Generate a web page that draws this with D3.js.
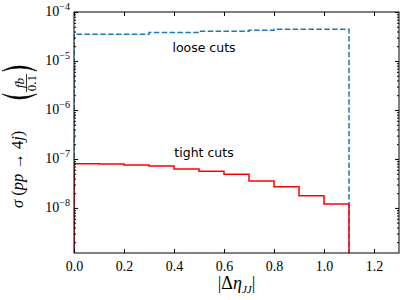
<!DOCTYPE html>
<html>
<head>
<meta charset="utf-8">
<script src="https://cdn.jsdelivr.net/npm/d3@7"></script>
<style>
  body { margin: 0; background: #fff; }
  svg { display: block; }
</style>
</head>
<body>
<svg width="406" height="300"></svg>
<script>
// bin edges of |Δη_JJ| (width 0.1)
const binEdges = [0.0, 0.1, 0.2, 0.3, 0.4, 0.5, 0.6, 0.7, 0.8, 0.9, 1.0, 1.1];
// cross sections per bin
const looseCuts = [3.5e-5, 3.5e-5, 3.5e-5, 3.8e-5, 3.8e-5, 4.05e-5, 4.05e-5, 4.25e-5, 4.45e-5, 4.45e-5, 4.45e-5];
const tightCuts = [8.0e-8, 7.9e-8, 7.55e-8, 7.2e-8, 6.25e-8, 5.6e-8, 4.9e-8, 3.56e-8, 2.72e-8, 1.78e-8, 1.21e-8];
const xTicks = [0.0, 0.2, 0.4, 0.6, 0.8, 1.0, 1.2];
const yExponents = [-4, -5, -6, -7, -8];
const yMin = Math.pow(10, -8.92), yMax = 1e-4;

const svg = d3.select("svg");
const margin = { top: 12, right: 7, bottom: 47, left: 74 };
const width = 406, height = 300;
const serif = "'Liberation Serif', 'DejaVu Serif', serif";

const x = d3.scaleLinear().domain([0, 1.3]).range([margin.left, width - margin.right]);
const y = d3.scaleLog().domain([yMin, yMax]).range([height - margin.bottom, margin.top]);

svg.append("defs").append("clipPath").attr("id", "clip")
  .append("rect")
  .attr("x", margin.left).attr("y", margin.top)
  .attr("width", x.range()[1] - margin.left)
  .attr("height", y.range()[0] - margin.top);

// histogram outline (step) from bin values
function stepPoints(vals) {
  const pts = [[binEdges[0], yMin]];
  vals.forEach((v, i) => {
    pts.push([binEdges[i], v]);
    pts.push([binEdges[i + 1], v]);
  });
  pts.push([binEdges[binEdges.length - 1], yMin]);
  return pts;
}
const line = d3.line().x(d => x(d[0])).y(d => y(d[1]));

const plot = svg.append("g").attr("clip-path", "url(#clip)");
plot.append("path")
  .attr("d", line(stepPoints(looseCuts)))
  .attr("fill", "none")
  .attr("stroke", "#1f77b4")
  .attr("stroke-width", 1.5)
  .attr("stroke-dasharray", "5.5,2.4");
plot.append("path")
  .attr("d", line(stepPoints(tightCuts)))
  .attr("fill", "none")
  .attr("stroke", "#ff0000")
  .attr("stroke-width", 1.5);

// annotations
svg.append("text")
  .attr("x", x(0.52)).attr("y", y(1.5e-5))
  .attr("text-anchor", "middle")
  .style("font-family", "'DejaVu Sans', sans-serif")
  .style("font-size", "12.5px")
  .text("loose cuts");
svg.append("text")
  .attr("x", x(0.52)).attr("y", y(1.12e-7))
  .attr("text-anchor", "middle")
  .style("font-family", "'DejaVu Sans', sans-serif")
  .style("font-size", "12.5px")
  .text("tight cuts");

// axes (ticks inside, on all sides)
const xMajor = d3.axisBottom(x).tickValues(xTicks).tickSize(-4).tickPadding(8)
  .tickFormat(d3.format(".1f"));
const gx = svg.append("g")
  .attr("transform", `translate(0,${height - margin.bottom})`)
  .call(xMajor);
gx.selectAll("text").style("font-family", serif).style("font-size", "14px");

svg.append("g")
  .attr("transform", `translate(0,${margin.top})`)
  .call(d3.axisTop(x).tickValues(xTicks).tickSize(-4).tickFormat(""));

const minorVals = [];
for (let e = -9; e < -4; e++) {
  for (let m = 2; m <= 9; m++) {
    const v = m * Math.pow(10, e);
    if (v > yMin && v < yMax) minorVals.push(v);
  }
}
const majorVals = yExponents.map(e => Math.pow(10, e));

const gy = svg.append("g").attr("transform", `translate(${margin.left},0)`);
gy.call(d3.axisLeft(y).tickValues(majorVals).tickSize(-4).tickPadding(4).tickFormat(""));
gy.append("g").call(d3.axisLeft(y).tickValues(minorVals).tickSize(-2).tickFormat(""));
const gyr = svg.append("g").attr("transform", `translate(${width - margin.right},0)`);
gyr.call(d3.axisRight(y).tickValues(majorVals).tickSize(-4).tickFormat(""));
gyr.append("g").call(d3.axisRight(y).tickValues(minorVals).tickSize(-2).tickFormat(""));
svg.selectAll(".domain").remove();

// y tick labels 10^n
const yl = svg.append("g").selectAll("text").data(yExponents).join("text")
  .attr("x", margin.left - 4)
  .attr("y", d => y(Math.pow(10, d)) + 4)
  .attr("text-anchor", "end")
  .style("font-family", serif)
  .style("font-size", "14px");
yl.append("tspan").text("10");
yl.append("tspan").attr("dy", -6).style("font-size", "10px").text(d => "\u2212" + Math.abs(d));

// frame
svg.append("rect")
  .attr("x", margin.left).attr("y", margin.top)
  .attr("width", x.range()[1] - margin.left)
  .attr("height", y.range()[0] - margin.top)
  .attr("fill", "none").attr("stroke", "#000").attr("stroke-width", 1);

// x label |Δη_JJ|
const xlab = svg.append("text")
  .attr("x", x(0.65)).attr("y", 289)
  .attr("text-anchor", "middle")
  .style("font-family", serif).style("font-size", "18px");
xlab.append("tspan").text("|\u0394");
xlab.append("tspan").style("font-style", "italic").text("\u03b7");
xlab.append("tspan").attr("dy", 4).style("font-size", "11px").style("font-style", "italic").text("JJ");
xlab.append("tspan").attr("dy", -4).text("|");

// y label σ (pp → 4j) (fb/0.1), rotated
const ylab = svg.append("g").attr("transform", "rotate(-90)")
  .style("font-family", serif);
const main = ylab.append("text").attr("x", -208).attr("y", 23).style("font-size", "16.5px");
main.append("tspan").style("font-style", "italic").text("\u03c3");
main.append("tspan").text(" (");
main.append("tspan").style("font-style", "italic").text("pp");
main.append("tspan").text(" \u2192 4");
main.append("tspan").style("font-style", "italic").text("j");
main.append("tspan").text(")");
ylab.append("text").attr("x", -83).attr("y", 23.5).attr("text-anchor", "middle")
  .style("font-size", "13.5px").style("font-style", "italic").text("fb");
ylab.append("text").attr("x", -83).attr("y", 35.5).attr("text-anchor", "middle")
  .style("font-size", "13px").text("0.1");
ylab.append("line").attr("x1", -92).attr("x2", -74).attr("y1", 26.5).attr("y2", 26.5)
  .attr("stroke", "#000").attr("stroke-width", 0.8);
// large parentheses
ylab.append("path")
  .attr("d", "M-94,2 Q-104,19.5 -94,37 Q-100,19.5 -94,2 Z")
  .attr("fill", "#000").attr("stroke", "#000").attr("stroke-width", 0.6);
ylab.append("path")
  .attr("d", "M-71,2 Q-61,19.5 -71,37 Q-65,19.5 -71,2 Z")
  .attr("fill", "#000").attr("stroke", "#000").attr("stroke-width", 0.6);
</script>
</body>
</html>
